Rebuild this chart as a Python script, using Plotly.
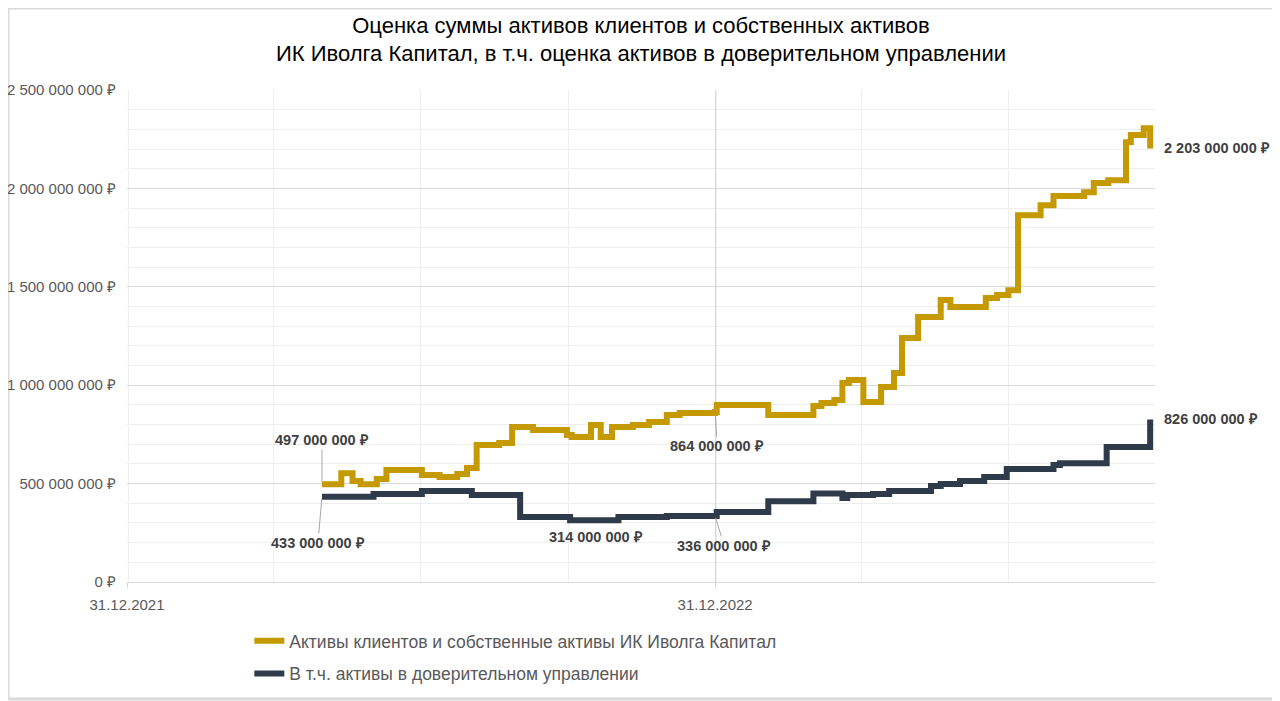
import plotly.graph_objects as go

# суммарные активы (клиентские + собственные), млн руб.
total_dates = ['2022-05-01', '2022-05-13', '2022-05-20', '2022-05-25', '2022-06-04',
               '2022-06-10', '2022-07-02', '2022-07-13', '2022-07-24', '2022-07-30',
               '2022-08-05', '2022-08-19', '2022-08-27', '2022-09-09', '2022-09-30',
               '2022-10-03', '2022-10-15', '2022-10-21', '2022-10-28', '2022-11-10',
               '2022-11-20', '2022-12-01', '2022-12-09', '2022-12-31', '2023-01-01',
               '2023-02-02', '2023-03-02', '2023-03-07', '2023-03-15', '2023-03-20',
               '2023-03-24', '2023-04-02', '2023-04-13', '2023-04-21', '2023-04-26',
               '2023-05-06', '2023-05-20', '2023-05-26', '2023-06-17', '2023-06-24',
               '2023-07-01', '2023-07-07', '2023-07-21', '2023-07-29', '2023-08-17',
               '2023-08-23', '2023-09-01', '2023-09-12', '2023-09-15', '2023-09-23',
               '2023-09-27']
total_values = [497, 553, 513, 497, 523,
                569, 544, 534, 549, 579,
                696, 706, 788, 772, 747,
                737, 798, 737, 788, 798,
                813, 848, 859, 864, 899,
                848, 894, 909, 925, 1011,
                1026, 914, 991, 1062, 1240,
                1346, 1433, 1397, 1443, 1458,
                1483, 1864, 1915, 1961, 1981,
                2027, 2042, 2235, 2271, 2306,
                2203]

# в т.ч. доверительное управление, млн руб.
du_dates = ['2022-05-01', '2022-06-02', '2022-07-02', '2022-08-02', '2022-09-01',
            '2022-10-02', '2022-10-18', '2022-11-01', '2022-12-01', '2022-12-31',
            '2023-01-01', '2023-02-02', '2023-03-02', '2023-03-20', '2023-03-23',
            '2023-04-08', '2023-04-18', '2023-05-14', '2023-05-20', '2023-06-01',
            '2023-06-16', '2023-06-30', '2023-07-29', '2023-08-02', '2023-08-31',
            '2023-09-27']
du_values = [433, 447, 462, 442, 330,
             314, 314, 330, 336, 336,
             356, 410, 450, 427, 442,
             447, 462, 488, 498, 513,
             533, 574, 594, 604, 686,
             826]

total_name = 'Активы клиентов и собственные активы ИК Иволга Капитал'
du_name = 'В т.ч. активы в доверительном управлении'

# подписи: (дата, значение)
total_labels = [('2022-05-01', 497), ('2022-12-31', 864), ('2023-09-27', 2203)]
du_labels = [('2022-05-01', 433), ('2022-10-18', 314), ('2022-12-31', 336), ('2023-09-27', 826)]

GOLD = '#C49A00'
NAVY = '#2F3A4A'
TXT = '#595959'
LBL = '#404040'
FONT = 'Liberation Sans, Arial'

mln = 1_000_000

fig = go.Figure()
fig.add_trace(go.Scatter(x=total_dates, y=[v * mln for v in total_values], name=total_name,
                         mode='lines', line=dict(color=GOLD, width=6, shape='hv'),
                         legendgroup='a'))
fig.add_trace(go.Scatter(x=du_dates, y=[v * mln for v in du_values], name=du_name,
                         mode='lines', line=dict(color=NAVY, width=6, shape='hv'),
                         legendgroup='b'))


def fmt(v):
    return '{:,}'.format(v * mln).replace(',', ' ') + ' ₽'


# смещения подписей (пиксели)
offsets = {
    ('2022-05-01', 497): dict(ax=0, ay=-44),
    ('2022-12-31', 864): dict(ax=2, ay=34),
    ('2022-05-01', 433): dict(ax=-4, ay=46),
    ('2022-12-31', 336): dict(ax=9, ay=30),
}
for d, v in total_labels + du_labels:
    key = (d, v)
    common = dict(x=d, y=v * mln, xref='x', yref='y', text='<b>' + fmt(v) + '</b>',
                  font=dict(family=FONT, size=14.5, color=LBL))
    if key in offsets:
        fig.add_annotation(**common, showarrow=True, arrowhead=0, arrowwidth=1,
                           arrowcolor='#a6a6a6', standoff=2, **offsets[key])
    elif d == '2023-09-27':
        fig.add_annotation(**common, showarrow=False, xanchor='left', xshift=12)
    else:
        fig.add_annotation(**common, showarrow=False, yshift=-17)

# область построения: 1028 x 492 px
PW, PH = 1028, 492
L, T = 119, 82

fig.update_layout(
    width=1280, height=701,
    paper_bgcolor='white', plot_bgcolor='white',
    margin=dict(l=L, r=1280 - L - PW, t=T, b=701 - T - PH),
    separators=', ',
    title=dict(text='Оценка суммы активов клиентов и собственных активов<br>'
                    'ИК Иволга Капитал, в т.ч. оценка активов в доверительном управлении',
               x=0.5, xref='paper', xanchor='center', y=0.965, yanchor='top',
               font=dict(family='Liberation Sans, Arial', size=22, color='#000000')),
    font=dict(family=FONT, color=TXT, size=15),
    showlegend=True,
    legend=dict(orientation='v', x=0.119, xanchor='left', y=-0.083, yanchor='top',
                font=dict(family=FONT, size=17.5, color=TXT), tracegroupgap=7,
                bgcolor='rgba(0,0,0,0)'),
    shapes=[dict(type='rect', xref='paper', yref='paper',
                 x0=-L / PW, x1=(1270 - L) / PW, y0=-(691 - T - PH) / PH, y1=1 + T / PH,
                 line=dict(color='#d9d9d9', width=3), layer='below')],
)

fig.update_xaxes(
    type='date', range=['2021-12-31', '2023-09-30'], automargin=False,
    tickvals=['2021-12-31', '2022-12-31'], tickformat='%d.%m.%Y',
    showgrid=True, gridcolor='#d9d9d9', gridwidth=1,
    ticks='outside', ticklen=5, tickcolor='#d9d9d9', ticklabelstandoff=4,
    showline=True, linecolor='#d9d9d9',
    tickfont=dict(family=FONT, size=15, color=TXT),
    minor=dict(dtick='M3', tick0='2022-01-01', showgrid=True, gridcolor='#eeeeee', gridwidth=1),
    zeroline=False,
)
fig.update_yaxes(
    range=[0, 2500 * mln], dtick=500 * mln, tickformat=',d', ticksuffix=' ₽', automargin=False,
    showgrid=True, gridcolor='#d9d9d9', gridwidth=1,
    minor=dict(dtick=100 * mln, showgrid=True, gridcolor='#eeeeee', gridwidth=1),
    tickfont=dict(family=FONT, size=15, color=TXT), ticklabelstandoff=10,
    zeroline=False, showline=False,
)

fig.write_html('out.html')
